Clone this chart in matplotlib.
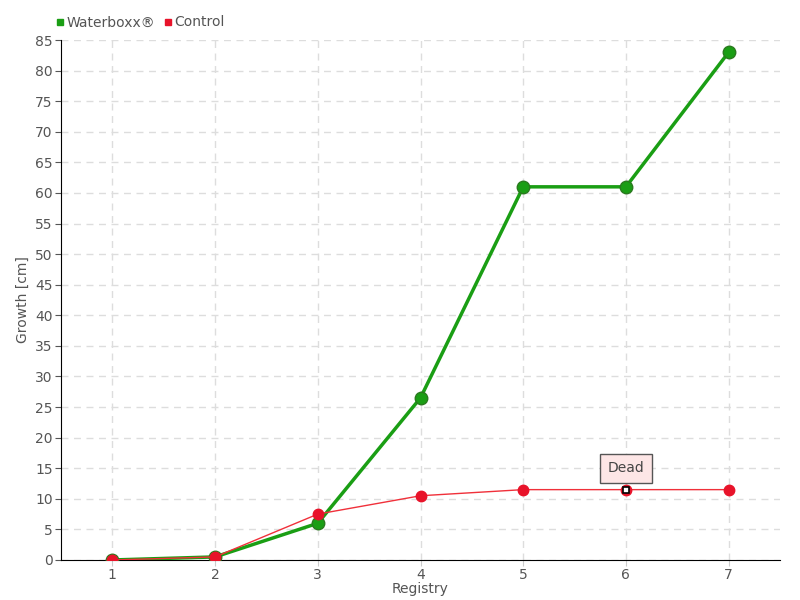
import matplotlib
matplotlib.use("Agg")
import matplotlib.pyplot as plt
from matplotlib.lines import Line2D

registry = [1, 2, 3, 4, 5, 6, 7]
waterboxx = [0, 0.5, 6, 26.5, 61, 61, 83]
control = [0, 0.5, 7.5, 10.5, 11.5, 11.5, 11.5]

fig = plt.figure(figsize=(8, 6), dpi=100)
ax = fig.add_axes([0.07625, 0.0667, 0.89875, 0.8666])

# grid
ax.grid(True, color="#dddddd", linestyle=(0, (5, 4)), linewidth=1)
ax.set_axisbelow(True)

ax.plot(registry, waterboxx, color="#1a9e14", lw=2.5, marker="o", ms=9,
        mfc="#1a9e14", mec="#2a7a1e", mew=1, zorder=3)
ax.plot(registry, control, color="#f0303a", lw=1, marker="o", ms=7.5,
        mfc="#e8132a", mec="#e8132a", zorder=4)
# the "dead" point
ax.plot([6], [11.5], marker="s", ms=5, mfc="white", mec="black", mew=1.2, zorder=5)
ax.annotate("Dead", xy=(6, 11.5), xytext=(6, 15), ha="center", va="center",
            fontsize=10, color="#444444",
            bbox=dict(boxstyle="square,pad=0.55", fc="#fde6e6", ec="#555555", lw=1),
            zorder=6)

ax.set_xlim(0.5, 7.5)
ax.set_ylim(0, 85)
ax.set_xticks(registry)
ax.set_yticks(range(0, 86, 5))
ax.tick_params(colors="#555555", labelsize=10, length=4, direction="out", pad=2)
ax.tick_params(axis="x", colors="#cccccc", labelcolor="#555555")
for s in ["top", "right"]:
    ax.spines[s].set_visible(False)
ax.spines["left"].set_color("black")
ax.spines["bottom"].set_color("black")

ax.set_xlabel("Registry", color="#555555", fontsize=10, labelpad=0)
ax.set_ylabel("Growth [cm]", color="#555555", fontsize=10, labelpad=4)

handles = [Line2D([], [], ls="", marker="s", ms=5, color="#1a9e14"),
           Line2D([], [], ls="", marker="s", ms=5, color="#e8132a")]
fig.legend(handles, ["Waterboxx®", "Control"], loc="upper left",
           bbox_to_anchor=(0.052, 0.995), ncol=2, frameon=False, fontsize=10,
           handletextpad=0.1, columnspacing=0.5, labelcolor="#555555",
           handlelength=0.8)

fig.savefig("out.png", dpi=100)
